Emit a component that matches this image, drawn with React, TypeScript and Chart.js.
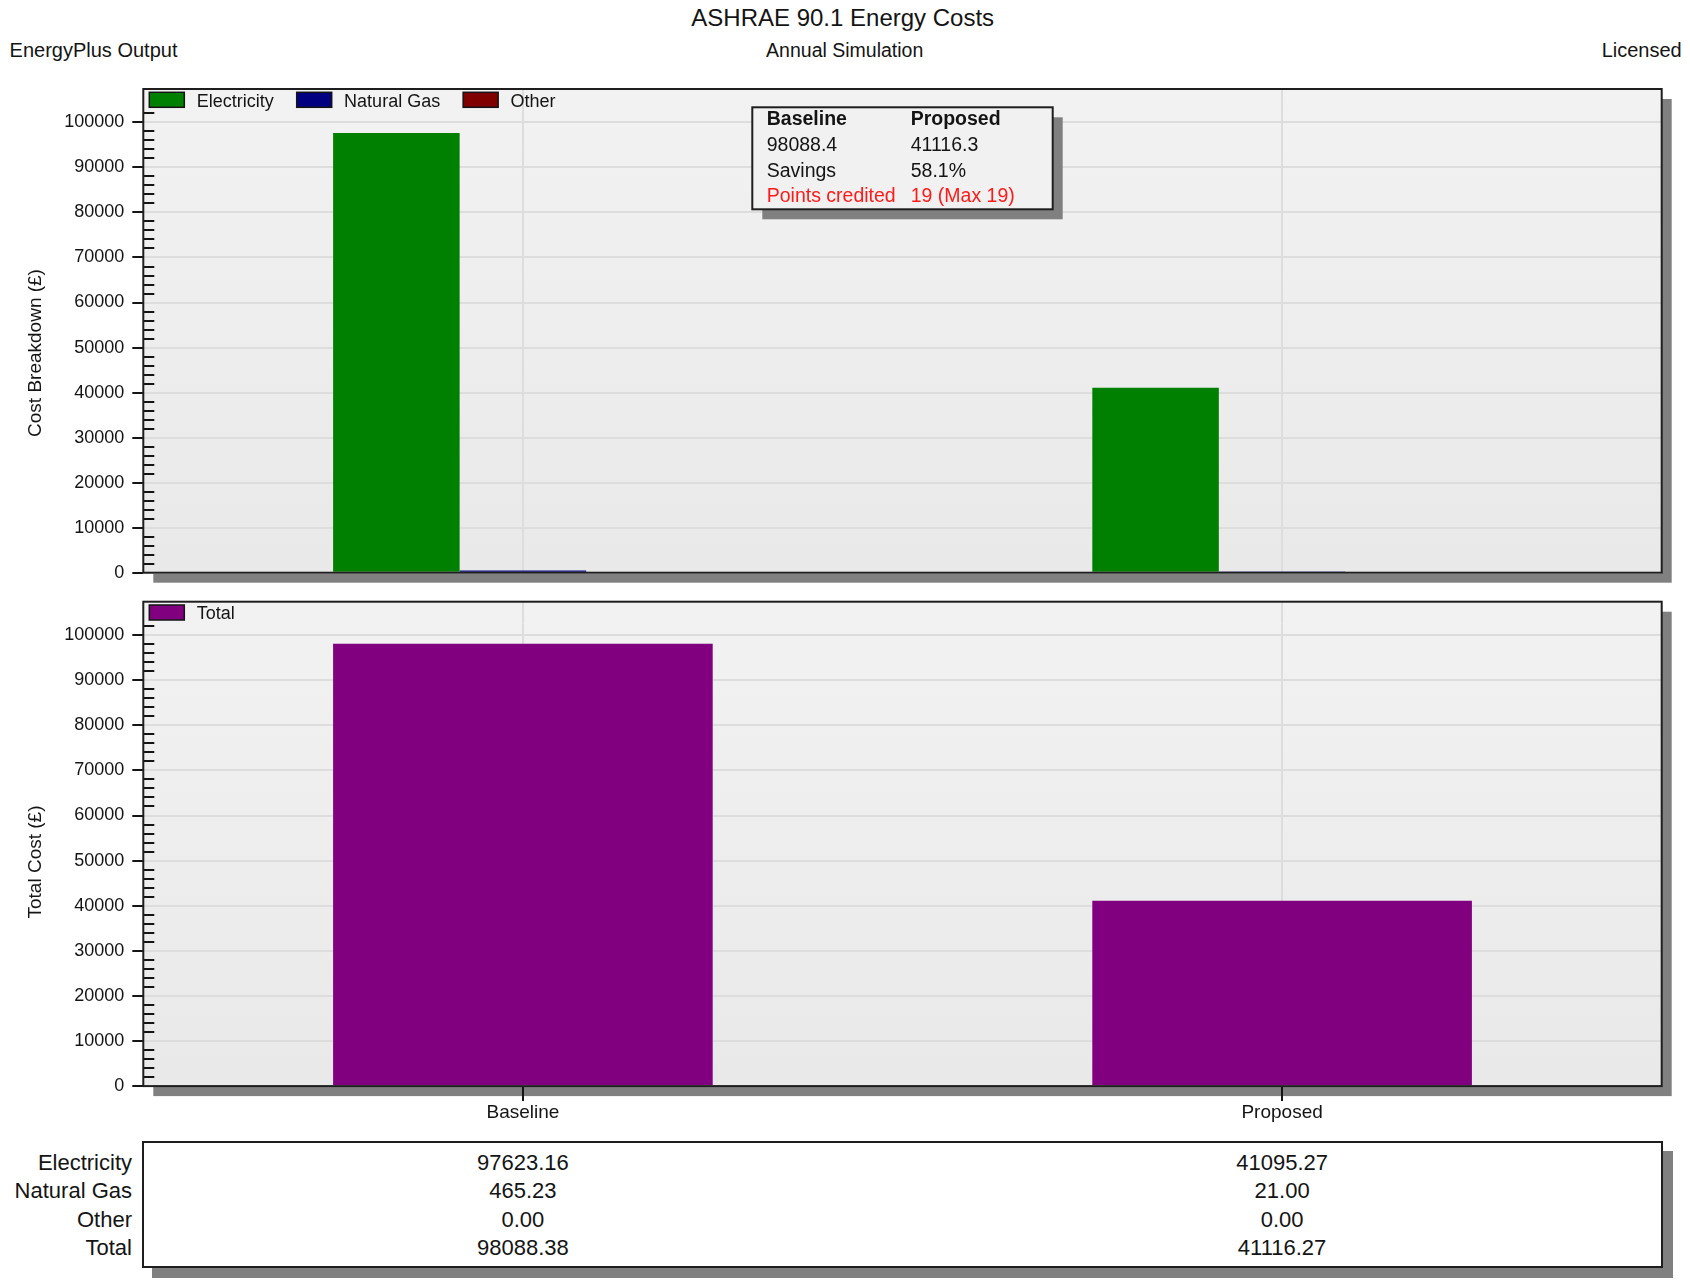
import React, { useEffect, useRef } from "react";
import { Chart, registerables } from "chart.js";

Chart.register(...registerables);

// ---------- data ----------
const categories = ["Baseline", "Proposed"];
const electricity = [97623.16, 41095.27];
const naturalGas = [465.23, 21.0];
const other = [0.0, 0.0];
const total = [98088.38, 41116.27];

const yTickValues = [0, 10000, 20000, 30000, 40000, 50000, 60000, 70000, 80000, 90000, 100000];
const yMinorStep = 2000;
const yMax = 102600;

const tableRowLabels = ["Electricity", "Natural Gas", "Other", "Total"];
const statsHeader = ["Baseline", "Proposed"];
const statsTotals = ["98088.4", "41116.3"];
const statsSavings = ["Savings", "58.1%"];
const statsPoints = ["Points credited", "19 (Max 19)"];

const chartTitle = "ASHRAE 90.1 Energy Costs";
const subTitle = "Annual Simulation";
const leftHeader = "EnergyPlus Output";
const rightHeader = "Licensed";
const topAxisTitle = "Cost Breakdown (£)";
const bottomAxisTitle = "Total Cost (£)";

// ---------- styling ----------
const FONT = '"Liberation Sans", Arial, Helvetica, sans-serif';
const INK = "#141414";
const GRID = "#dcdddc";
const SHADOW = "#808080";
const COLORS = {
  electricity: "#008000",
  gas: "#000080",
  other: "#800000",
  total: "#800080",
};

type FrameCfg = {
  extraTop: number;
  axisTitle: string;
  axisTitleX: number;
  axisTitleY: number;
  stats?: { left: number; top: number; width: number; height: number; colX: number[]; rowY: number[] };
};

function makeFramePlugin(cfg: FrameCfg) {
  return {
    id: "frameDecor",
    beforeDraw(chart: any) {
      const { ctx, chartArea: a, scales } = chart;
      const top = a.top - cfg.extraTop;
      const w = a.right - a.left;
      const h = a.bottom - top;
      ctx.save();
      ctx.fillStyle = SHADOW;
      ctx.fillRect(a.left + 10, top + 10, w, h);
      const g = ctx.createLinearGradient(0, top, 0, a.bottom);
      g.addColorStop(0, "#f1f2f1");
      g.addColorStop(1, "#e8e9e8");
      ctx.fillStyle = g;
      ctx.fillRect(a.left, top, w, h);
      // vertical grid lines continue up through the legend band
      const xs = scales.x;
      ctx.strokeStyle = GRID;
      ctx.lineWidth = 2;
      ctx.beginPath();
      xs.ticks.forEach((_t: any, i: number) => {
        const px = Math.round(xs.getPixelForTick(i));
        ctx.moveTo(px, top);
        ctx.lineTo(px, a.top);
      });
      ctx.stroke();
      ctx.restore();
    },
    afterDatasetsDraw(chart: any) {
      const { ctx, chartArea: a, scales } = chart;
      const ys = scales.y;
      const top = a.top - cfg.extraTop;
      const w = a.right - a.left;
      const h = a.bottom - top;
      ctx.save();
      // minor ticks (inside)
      ctx.strokeStyle = INK;
      ctx.lineWidth = 2;
      ctx.beginPath();
      for (let v = yMinorStep; v <= yMax; v += yMinorStep) {
        if (v % 10000 === 0) continue;
        const py = Math.round(ys.getPixelForValue(v));
        ctx.moveTo(a.left, py);
        ctx.lineTo(a.left + 11, py);
      }
      ctx.stroke();
      // frame
      ctx.strokeStyle = "#1e1e1e";
      ctx.lineWidth = 2;
      ctx.strokeRect(a.left, top, w, h);
      // legend inside the frame
      ctx.font = `18px ${FONT}`;
      ctx.textBaseline = "middle";
      ctx.textAlign = "left";
      let lx = a.left + 6;
      const by = top + 3.3;
      chart.data.datasets.forEach((ds: any) => {
        ctx.fillStyle = ds.backgroundColor;
        ctx.fillRect(lx, by, 35, 15);
        ctx.strokeStyle = INK;
        ctx.lineWidth = 1.5;
        ctx.strokeRect(lx, by, 35, 15);
        ctx.fillStyle = INK;
        ctx.fillText(ds.label, lx + 47.4, by + 9.5);
        lx += 47.4 + ctx.measureText(ds.label).width + 23;
      });
      // stats box
      if (cfg.stats) {
        const s = cfg.stats;
        ctx.fillStyle = SHADOW;
        ctx.fillRect(s.left + 10, s.top + 10, s.width, s.height);
        ctx.fillStyle = "#f0f1f0";
        ctx.fillRect(s.left, s.top, s.width, s.height);
        ctx.strokeStyle = "#1e1e1e";
        ctx.lineWidth = 2;
        ctx.strokeRect(s.left, s.top, s.width, s.height);
        ctx.textBaseline = "alphabetic";
        const rows = [statsHeader, statsTotals, statsSavings, statsPoints];
        rows.forEach((row, ri) => {
          ctx.font = `${ri === 0 ? "700 " : ""}19.5px ${FONT}`;
          ctx.fillStyle = ri === 3 ? "#ff1a1a" : INK;
          row.forEach((t, ci) => ctx.fillText(t, s.colX[ci], s.rowY[ri]));
        });
      }
      ctx.restore();
    },
    afterDraw(chart: any) {
      const { ctx } = chart;
      ctx.save();
      ctx.translate(cfg.axisTitleX, cfg.axisTitleY);
      ctx.rotate(-Math.PI / 2);
      ctx.font = `19px ${FONT}`;
      ctx.fillStyle = INK;
      ctx.textAlign = "center";
      ctx.textBaseline = "middle";
      ctx.fillText(cfg.axisTitle, 0, 0);
      ctx.restore();
    },
  };
}

function yScaleOptions() {
  return {
    min: 0,
    max: yMax,
    afterBuildTicks: (s: any) => {
      s.ticks = yTickValues.map((v) => ({ value: v }));
    },
    afterFit: (s: any) => {
      s.width = 143.3;
    },
    border: { display: false },
    grid: {
      color: GRID,
      lineWidth: 2,
      drawTicks: true,
      tickLength: 11,
      tickColor: INK,
      tickWidth: 2,
    },
    ticks: {
      padding: 8,
      color: INK,
      font: { size: 18, family: FONT },
      callback: (v: any) => String(v),
    },
  };
}

const CANVAS_W = 1690;
const TOP_Y = 80;
const TOP_H = 515;
const BOT_Y = 595;
const BOT_H = 540;

function Txt(props: {
  x: number;
  baseline: number;
  size: number;
  align: "left" | "center" | "right";
  children: React.ReactNode;
  weight?: number;
}) {
  const { x, baseline, size, align, children, weight } = props;
  const style: React.CSSProperties = {
    position: "absolute",
    top: baseline - 0.8465 * size,
    fontSize: size,
    lineHeight: `${size}px`,
    whiteSpace: "nowrap",
    fontWeight: weight ?? 400,
  };
  if (align === "left") style.left = x;
  else if (align === "right") style.right = CANVAS_W - x;
  else {
    style.left = x;
    style.transform = "translateX(-50%)";
  }
  return <div style={style}>{children}</div>;
}

export default function App() {
  const topRef = useRef<HTMLCanvasElement>(null);
  const botRef = useRef<HTMLCanvasElement>(null);

  useEffect(() => {
    Chart.defaults.font.family = FONT;
    Chart.defaults.color = INK;

    const barCommon = { categoryPercentage: 0.5, barPercentage: 1.0, borderWidth: 0 };

    const topChart = new Chart(topRef.current as HTMLCanvasElement, {
      type: "bar",
      data: {
        labels: categories,
        datasets: [
          { label: "Electricity", data: electricity, backgroundColor: COLORS.electricity, ...barCommon },
          { label: "Natural Gas", data: naturalGas, backgroundColor: COLORS.gas, ...barCommon },
          { label: "Other", data: other, backgroundColor: COLORS.other, ...barCommon },
        ],
      },
      options: {
        responsive: false,
        animation: false,
        events: [],
        layout: { padding: { left: 0, right: 28.3, top: 30.7, bottom: 22.3 } },
        plugins: { legend: { display: false }, tooltip: { enabled: false }, title: { display: false } },
        scales: {
          x: {
            offset: true,
            border: { display: false },
            grid: { offset: false, color: GRID, lineWidth: 2, drawTicks: false },
            ticks: { display: false },
            afterFit: (s: any) => {
              s.height = 0;
            },
          },
          y: yScaleOptions() as any,
        },
      } as any,
      plugins: [
        makeFramePlugin({
          extraTop: 21.7,
          axisTitle: topAxisTitle,
          axisTitleX: 35.6,
          axisTitleY: 353 - TOP_Y,
          stats: {
            left: 752.3,
            top: 107.3 - TOP_Y,
            width: 300.4,
            height: 102,
            colX: [766.7, 910.7],
            rowY: [124.5 - TOP_Y, 151 - TOP_Y, 176.8 - TOP_Y, 202.4 - TOP_Y],
          },
        }),
      ],
    });

    const botChart = new Chart(botRef.current as HTMLCanvasElement, {
      type: "bar",
      data: {
        labels: categories,
        datasets: [{ label: "Total", data: total, backgroundColor: COLORS.total, ...barCommon }],
      },
      options: {
        responsive: false,
        animation: false,
        events: [],
        layout: { padding: { left: 0, right: 28.3, top: 28.4, bottom: 8.9 } },
        plugins: { legend: { display: false }, tooltip: { enabled: false }, title: { display: false } },
        scales: {
          x: {
            offset: true,
            border: { display: false },
            grid: {
              offset: false,
              color: GRID,
              lineWidth: 2,
              drawTicks: true,
              tickLength: 15,
              tickColor: INK,
              tickWidth: 2,
            },
            ticks: { padding: 0, color: INK, font: { size: 19, family: FONT } },
            afterFit: (s: any) => {
              s.height = 40;
            },
          },
          y: yScaleOptions() as any,
        },
      } as any,
      plugins: [
        makeFramePlugin({
          extraTop: 21.7,
          axisTitle: bottomAxisTitle,
          axisTitleX: 35.6,
          axisTitleY: 862 - BOT_Y,
        }),
      ],
    });

    return () => {
      topChart.destroy();
      botChart.destroy();
    };
  }, []);

  const tableLeft = 143.3;
  const tableWidth = 1518.4;
  const colCenters = [tableLeft + tableWidth * 0.25, tableLeft + tableWidth * 0.75];
  const rowBaselines = [1170.5, 1199, 1227.5, 1256];
  const tableValues = [electricity, naturalGas, other, total];

  return (
    <div
      style={{
        position: "absolute",
        left: 0,
        top: 0,
        width: CANVAS_W,
        height: 1281,
        background: "#ffffff",
        fontFamily: FONT,
        color: INK,
        overflow: "hidden",
      }}
    >
      <Txt x={842.7} baseline={26.5} size={24} align="center">
        {chartTitle}
      </Txt>
      <Txt x={9.6} baseline={57.3} size={20} align="left">
        {leftHeader}
      </Txt>
      <Txt x={844.7} baseline={58} size={19.5} align="center">
        {subTitle}
      </Txt>
      <Txt x={1681.7} baseline={57} size={20} align="right">
        {rightHeader}
      </Txt>

      <div style={{ position: "absolute", left: 0, top: TOP_Y, width: CANVAS_W, height: TOP_H }}>
        <canvas ref={topRef} width={CANVAS_W} height={TOP_H} style={{ display: "block" }} />
      </div>
      <div style={{ position: "absolute", left: 0, top: BOT_Y, width: CANVAS_W, height: BOT_H }}>
        <canvas ref={botRef} width={CANVAS_W} height={BOT_H} style={{ display: "block" }} />
      </div>

      <div
        style={{
          position: "absolute",
          left: tableLeft - 1,
          top: 1141.7 - 1,
          width: tableWidth + 2,
          height: 127,
          boxSizing: "border-box",
          border: "2px solid #1e1e1e",
          background: "#ffffff",
          boxShadow: `10px 10px 0 ${SHADOW}`,
        }}
      />
      {tableRowLabels.map((lbl, ri) => (
        <React.Fragment key={lbl}>
          <Txt x={132} baseline={rowBaselines[ri]} size={22} align="right">
            {lbl}
          </Txt>
          {colCenters.map((cx, ci) => (
            <Txt key={ci} x={cx} baseline={rowBaselines[ri]} size={22} align="center">
              {tableValues[ri][ci].toFixed(2)}
            </Txt>
          ))}
        </React.Fragment>
      ))}
    </div>
  );
}
